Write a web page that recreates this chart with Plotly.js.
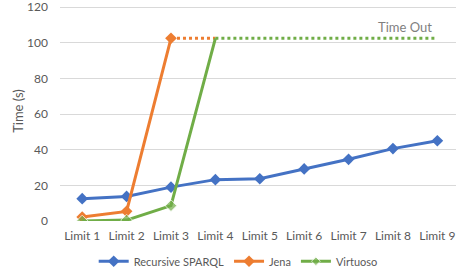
<!DOCTYPE html>
<html><head><meta charset="utf-8">
<script src="https://cdn.plot.ly/plotly-3.0.1.min.js"></script>
<style>html,body{margin:0;padding:0;background:#fff}#c{width:456px;height:271px}</style>
</head><body><div id="c"></div>
<script>
var categories = ["Limit 1","Limit 2","Limit 3","Limit 4","Limit 5","Limit 6","Limit 7","Limit 8","Limit 9"];
var recursive = [12.5, 13.8, 19, 23.2, 23.7, 29.2, 34.6, 40.6, 45];
var jena = [2.2, 5.4, 102.5, null, null, null, null, null, null];
var virtuoso = [0, 0.5, 8.6, 102.5, null, null, null, null, null];
var jenaTimeout = [null, null, 102.5, 102.5, null, null, null, null, null];
var virtuosoTimeout = [null, null, null, 102.5, 102.5, 102.5, 102.5, 102.5, 102.5];
var timeoutLabel = "Time Out";
var yTicks = [0, 20, 40, 60, 80, 100, 120];

var blue = "#4472C4", orange = "#ED7D31", green = "#70AD47";
var traces = [
  {x: categories, y: jenaTimeout, mode: "lines", line: {color: orange, width: 3, dash: "dot"}, showlegend: false, hoverinfo: "skip"},
  {x: categories, y: virtuosoTimeout, mode: "lines", line: {color: green, width: 3, dash: "dot"}, showlegend: false, hoverinfo: "skip"},
  {x: categories, y: recursive, name: "Recursive SPARQL", mode: "lines+markers", line: {color: blue, width: 3}, marker: {symbol: "diamond", size: 9, color: blue}},
  {x: categories, y: jena, name: "Jena", mode: "lines+markers", line: {color: orange, width: 3}, marker: {symbol: "diamond", size: 9, color: orange}},
  {x: categories, y: virtuoso, name: "Virtuoso", mode: "lines+markers", line: {color: green, width: 3}, marker: {symbol: "diamond", size: [9,9,9,0], color: green}}
];
var layout = {
  width: 456, height: 271,
  margin: {l: 60, r: 0, t: 1, b: 50, autoexpand: false},
  paper_bgcolor: "#fff", plot_bgcolor: "#fff",
  font: {family: "Lato, 'Open Sans', sans-serif", size: 12, color: "#595959"},
  xaxis: {type: "category", range: [-0.5, 8.42], showgrid: false, zeroline: false, showline: false, ticks: "", ticklabelstandoff: 6, fixedrange: true},
  yaxis: {range: [0, 123.4], tickvals: yTicks, showgrid: true, gridcolor: "#d9d9d9", gridwidth: 1, zeroline: false, showline: false, ticks: "", ticklabelstandoff: 11, ticklabeloverflow: "allow",
    title: {text: "Time (s)", standoff: 0, font: {size: 13, color: "#595959"}}},
  legend: {orientation: "h", x: 0.45, xanchor: "center", yref: "paper", y: -0.117, yanchor: "top", font: {size: 11, color: "#595959"}, itemwidth: 30, tracegroupgap: 0},
  annotations: [{x: "Limit 9", y: 102.5, xref: "x", yref: "y", text: timeoutLabel, showarrow: false, xanchor: "right", yanchor: "bottom", xshift: -3, yshift: 1, font: {size: 13, color: "#7f7f7f"}}],
  showlegend: true
};
Plotly.newPlot("c", traces, layout, {displayModeBar: false, staticPlot: true});
</script></body></html>
